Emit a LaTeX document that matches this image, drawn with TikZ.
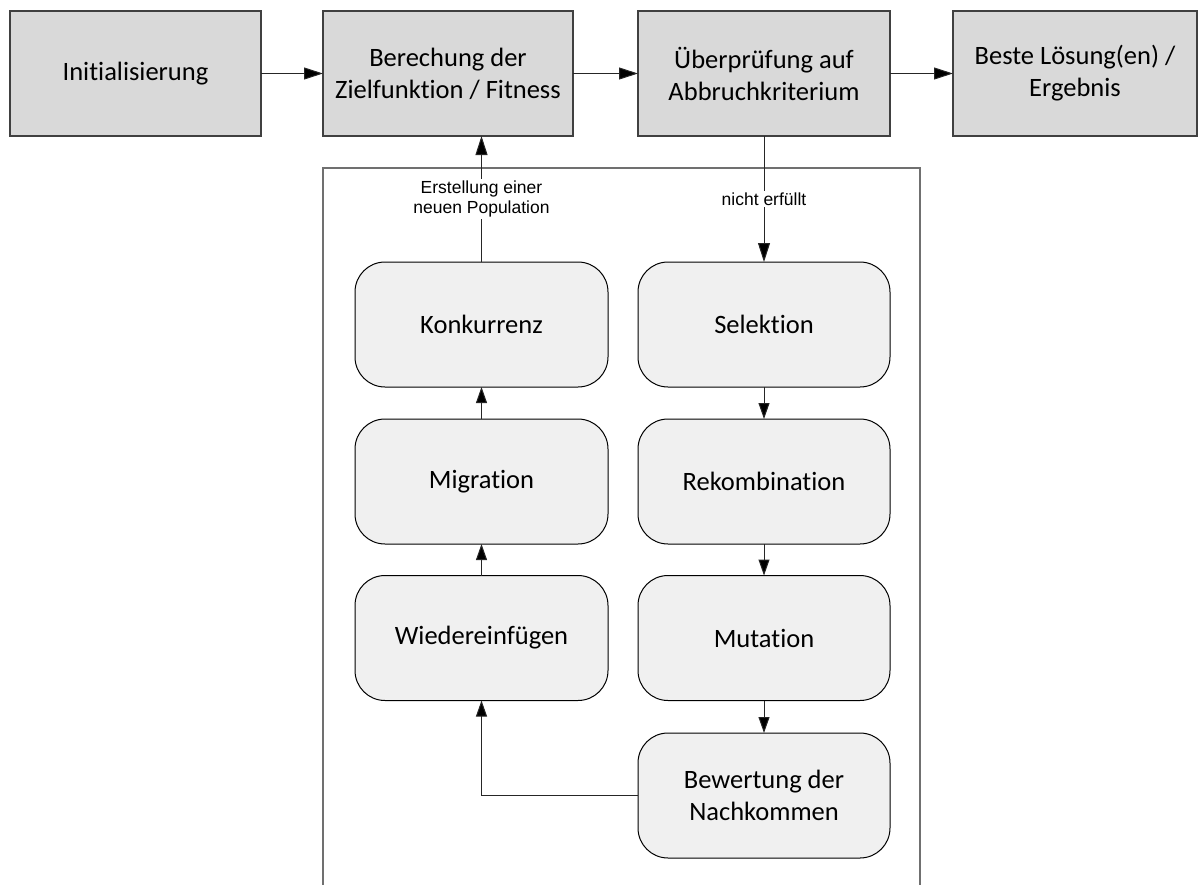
\documentclass[tikz,border=0pt]{standalone}
\usepackage{fontspec}
\usetikzlibrary{arrows.meta}
\newfontfamily\boxfont[Ligatures={NoCommon}]{Carlito}
\newfontfamily\labfont{Liberation Sans}
\definecolor{topfill}{HTML}{D9D9D9}
\definecolor{stepfill}{HTML}{F0F0F0}
\definecolor{edgegray}{HTML}{404040}
\definecolor{framegray}{HTML}{707070}
\begin{document}
\begin{tikzpicture}[x=1pt,y=-1pt,
  topbox/.style={draw=edgegray, fill=topfill, line width=1.2pt,
    minimum height=125pt, inner sep=0pt, outer sep=0pt, align=center,
    font=\boxfont\fontsize{26.5}{32}\selectfont},
  stepbox/.style={draw=black, fill=stepfill, line width=1pt, rounded corners=30pt,
    minimum width=252pt, minimum height=125pt, inner sep=0pt, outer sep=0pt,
    align=center, font=\boxfont\fontsize{26.5}{32}\selectfont},
  flow/.style={draw=black!85, line width=1pt, -{Triangle[length=16pt,width=11pt,fill=black]}},
  bigflow/.style={draw=black!85, line width=1pt, -{Triangle[length=19pt,width=12pt,fill=black]}},
  lab/.style={fill=white, inner sep=2pt, align=center,
    font=\labfont\fontsize{17.5}{20}\selectfont}]
\useasboundingbox (0,0) rectangle (1200,884);

% main sequence
\node[topbox, minimum width=251pt] (init) at (135.5,73.5) {Initialisierung};
\node[topbox, minimum width=250pt] (calc) at (448,73.5) {Berechung der\\Zielfunktion / Fitness};
\node[topbox, minimum width=252pt] (check) at (764,73.5) {Überprüfung auf\\Abbruchkriterium};
\node[topbox, minimum width=244pt] (best) at (1075,73.5) {Beste Lösung(en) /\\Ergebnis};

% frame around the evolutionary loop
\draw[draw=framegray, line width=1.2pt] (323,168) rectangle (920,940);

% loop steps
\node[stepbox, minimum width=253pt] (konk) at (481.5,324.5) {Konkurrenz};
\node[stepbox, minimum width=253pt] (migr) at (481.5,481.5) {Migration};
\node[stepbox, minimum width=253pt] (wied) at (481.5,638) {Wiedereinfügen};
\node[stepbox] (sel) at (764,324.5) {Selektion};
\node[stepbox] (rek) at (764,481.5) {Rekombination};
\node[stepbox] (mut) at (764,638) {Mutation};
\node[stepbox] (bew) at (764,795.5) {Bewertung der\\Nachkommen};

% connectors
\draw[bigflow] (init) -- (calc);
\draw[bigflow] (calc) -- (check);
\draw[bigflow] (check) -- (best);
\draw[bigflow] (check.south) -- node[lab, pos=0.5] {nicht erfüllt} (sel.north);
\draw[bigflow] (konk.north) -- node[lab, pos=0.5] {Erstellung einer\\neuen Population} (konk.north |- calc.south);
\draw[flow] (sel) -- (rek);
\draw[flow] (rek) -- (mut);
\draw[flow] (mut) -- (bew);
\draw[flow] (bew.west) -| (wied.south);
\draw[flow] (wied) -- (migr);
\draw[flow] (migr) -- (konk);
\end{tikzpicture}
\end{document}
